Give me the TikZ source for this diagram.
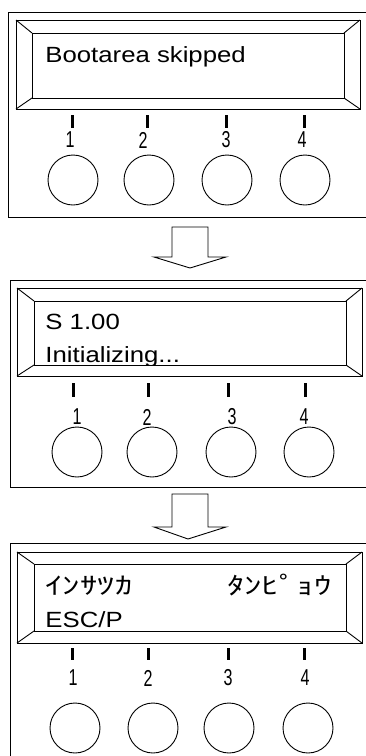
\documentclass[tikz,border=0pt]{standalone}
\usepackage{fontspec}
\setmainfont{Liberation Sans}
\newfontfamily\kanafont{Noto Sans CJK JP}
\newcommand{\lcdstr}[1]{\scalebox{1.17}[1]{#1}}
\newcommand{\kanastr}[1]{\scalebox{1.45}[1]{\kanafont\fontsize{24}{24}\selectfont #1}}
\newcommand{\keynum}[1]{\scalebox{0.7}[1]{#1}}

\begin{document}
\begin{tikzpicture}[x=1pt,y=-1pt,line width=0.9pt,
    lcdtext/.style={anchor=base west,inner sep=0pt,font=\fontsize{22}{22}\selectfont},
    keylabel/.style={inner sep=0pt,font=\fontsize{23}{23}\selectfont},
    keytick/.style={line width=3pt},
    key/.style={circle,draw=black,minimum size=50pt,inner sep=0pt}]
    \useasboundingbox (0,0) rectangle (366,756);
    \clip (0,0) rectangle (366,756);

    % Panel 1: boot message
    \draw (380,12) -- (8,12) -- (8,217) -- (380,217);
    \coordinate (a1) at (16,20);
    \coordinate (b1) at (360,109);
    \coordinate (c1) at (32,33);
    \coordinate (d1) at (344,98);
    \draw (a1) rectangle (b1);
    \draw (c1) rectangle (d1);
    \draw (a1) -- (c1);
    \draw (b1) -- (d1);
    \draw (a1 -| b1) -- (c1 -| d1);
    \draw (a1 |- b1) -- (c1 |- d1);
    \node[lcdtext] (t11) at (45,62) {\lcdstr{Bootarea skipped}};
    \foreach \n/\tx/\lx/\cx in {1/72/70/73, 2/147/143/149, 3/226/226/227, 4/304/302/305} {
        \draw[keytick] (\tx,115) -- (\tx,128);
        \node[keylabel] (n1\n) at (\lx,140) {\keynum{\n}};
        \node[key] (k1\n) at (\cx,180) {};
    }

    % Arrow 1
    \draw (172,227) -- (172,257) -- (154,257) -- (190,268) -- (226,257) -- (208,257) -- (208,227) -- cycle;

    % Panel 2: version and init
    \draw (380,280) -- (10,280) -- (10,487) -- (380,487);
    \coordinate (a2) at (17,288);
    \coordinate (b2) at (362,376);
    \coordinate (c2) at (34,301);
    \coordinate (d2) at (346,365);
    \begin{scope}
        \clip (c2) rectangle (d2);
        \node[lcdtext] (t21) at (45,329) {\lcdstr{S 1.00}};
        \node[lcdtext] (t22) at (45,362) {\lcdstr{Initializing...}};
    \end{scope}
    \draw (a2) rectangle (b2);
    \draw (c2) rectangle (d2);
    \draw (a2) -- (c2);
    \draw (b2) -- (d2);
    \draw (a2 -| b2) -- (c2 -| d2);
    \draw (a2 |- b2) -- (c2 |- d2);
    \foreach \n/\tx/\lx/\cx in {1/73/77/77, 2/148/147/152, 3/228/232/231, 4/305/304/309} {
        \draw[keytick] (\tx,383) -- (\tx,397);
        \node[keylabel] (n2\n) at (\lx,417) {\keynum{\n}};
        \node[key] (k2\n) at (\cx,452) {};
    }

    % Arrow 2
    \draw (172,494) -- (172,527) -- (154,527) -- (188,539) -- (226,527) -- (208,527) -- (208,494) -- cycle;

    % Panel 3: print mode
    \draw (380,543) -- (10,543) -- (10,800);
    \coordinate (a3) at (17,552);
    \coordinate (b3) at (362,643);
    \coordinate (c3) at (34,564);
    \coordinate (d3) at (346,631);
    \draw (a3) rectangle (b3);
    \draw (c3) rectangle (d3);
    \draw (a3) -- (c3);
    \draw (b3) -- (d3);
    \draw (a3 -| b3) -- (c3 -| d3);
    \draw (a3 |- b3) -- (c3 |- d3);
    \node[lcdtext] (t31) at (45,594) {\kanastr{ｲﾝｻﾂｶ}};
    \node[lcdtext,anchor=base east] (t32) at (332,594) {\kanastr{ﾀﾝﾋﾟｮｳ}};
    \node[lcdtext] (t33) at (45,627) {\lcdstr{ESC/P}};
    \foreach \n/\tx/\lx/\cx in {1/72/73/75, 2/148/148/153, 3/228/228/229, 4/304/305/308} {
        \draw[keytick] (\tx,648) -- (\tx,660);
        \node[keylabel] (n3\n) at (\lx,678) {\keynum{\n}};
        \node[key] (k3\n) at (\cx,728) {};
    }
\end{tikzpicture}
\end{document}
